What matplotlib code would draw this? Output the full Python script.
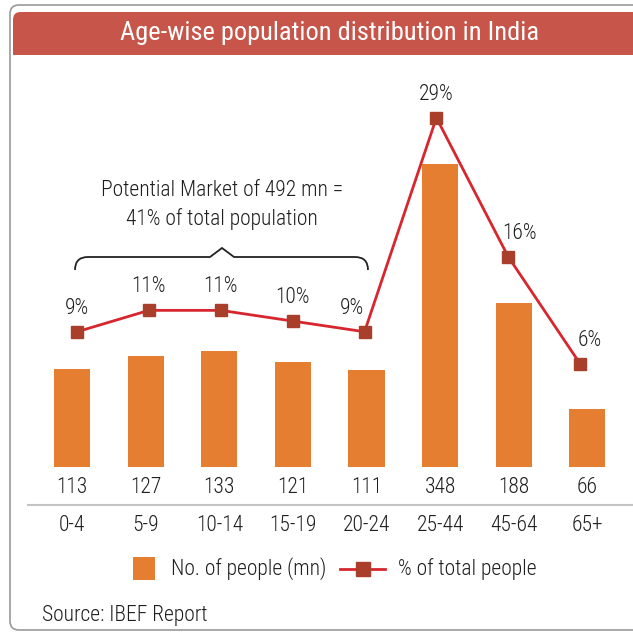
import matplotlib
matplotlib.use("Agg")
import matplotlib.pyplot as plt
from matplotlib.patches import FancyBboxPatch, Rectangle, PathPatch
from matplotlib.path import Path
from matplotlib.lines import Line2D

plt.rcParams['font.family'] = ['Roboto Condensed', 'DejaVu Sans']
plt.rcParams['font.weight'] = 'light'

age_groups = ['0-4', '5-9', '10-14', '15-19', '20-24', '25-44', '45-64', '65+']
people_mn = [113, 127, 133, 121, 111, 348, 188, 66]
pct_total = [9, 11, 11, 10, 9, 29, 16, 6]

W, H = 633, 635
def fx(px):
    return px / W
def fy(py):
    return 1 - py / H

bar_color = '#E57E31'
line_color = '#D7262E'
mark_color = '#A93E2B'
text_color = '#1e1e1e'
fs = 15.5

fig = plt.figure(figsize=(W / 100, H / 100), dpi=100)

# outer frame and title banner
fig.patches.append(FancyBboxPatch((fx(10), fy(630)), fx(660) - fx(10), fy(5) - fy(630),
                                  boxstyle='round,pad=0,rounding_size=0.014',
                                  transform=fig.transFigure, fc='none', ec='#9a9a9a', lw=1.2))
fig.patches.append(FancyBboxPatch((fx(13), fy(45)), fx(660) - fx(13), fy(12) - fy(45),
                                  boxstyle='round,pad=0,rounding_size=0.012',
                                  transform=fig.transFigure, fc='#C8554A', ec='none'))
fig.patches.append(Rectangle((fx(13), fy(55)), fx(660) - fx(13), fy(30) - fy(55),
                             transform=fig.transFigure, fc='#C8554A', ec='none'))
fig.text(fx(330), fy(33), 'Age-wise population distribution in India', color='white',
         fontsize=19, fontweight='normal', ha='center', va='center')

x = list(range(len(age_groups)))

# bars
ax = fig.add_axes([fx(35.2), fy(467), 589 / W, 407 / H])
ax.set_xlim(-0.5, 7.5)
ax.set_ylim(0, 467)
ax.axis('off')
ax.bar(x, people_mn, width=0.49, color=bar_color)
for i, v in enumerate(people_mn):
    ax.text(i, -23, str(v), ha='center', va='center', fontsize=fs, color=text_color, clip_on=False)
    ax.text(i, -66.6, age_groups[i], ha='center', va='center', fontsize=fs, color=text_color, clip_on=False)

# line
ax2 = fig.add_axes([fx(41.1), fy(467), 575 / W, 407 / H])
ax2.set_xlim(-0.5, 7.5)
ax2.set_ylim(-3.64, 34.4)
ax2.axis('off')
ax2.patch.set_alpha(0)
ax2.plot(x, pct_total, color=line_color, lw=2, marker='s', ms=8.5,
         mfc=mark_color, mec=mark_color)
label_dx = [0, 0, 0, 0, -9, 0, 8, 7]
for i, p in enumerate(pct_total):
    ax2.annotate(f'{p}%', (i, p), xytext=(label_dx[i], 17), textcoords='offset points',
                 ha='center', va='center', fontsize=fs, color=text_color)

# separator
fig.lines.append(Line2D([fx(28), fx(633)], [fy(505), fy(505)], transform=fig.transFigure,
                        color='#c4c4c4', lw=1.5))

# brace + annotation
pts = [(75, 270), (75, 257), (88, 257), (210, 257), (222, 248), (234, 257),
       (355, 257), (368, 257), (368, 270)]
codes = [Path.MOVETO, Path.CURVE3, Path.CURVE3, Path.LINETO, Path.LINETO, Path.LINETO,
         Path.LINETO, Path.CURVE3, Path.CURVE3]
brace = Path([(fx(a), fy(b)) for a, b in pts], codes)
fig.patches.append(PathPatch(brace, transform=fig.transFigure, fc='none', ec='#222222', lw=1.3))
fig.text(fx(222), fy(190), 'Potential Market of 492 mn =', ha='center', va='center',
         fontsize=fs, color=text_color)
fig.text(fx(222), fy(219), '41% of total population', ha='center', va='center',
         fontsize=fs, color=text_color)

# legend
fig.patches.append(Rectangle((fx(133), fy(580)), 22 / W, 23 / H, transform=fig.transFigure,
                             fc=bar_color, ec='none'))
fig.text(fx(171), fy(569), 'No. of people (mn)', ha='left', va='center', fontsize=fs, color=text_color)
fig.lines.append(Line2D([fx(340), fx(385)], [fy(569), fy(569)], transform=fig.transFigure,
                        color=line_color, lw=2))
fig.lines.append(Line2D([fx(362.5)], [fy(569)], transform=fig.transFigure, marker='s', ms=10,
                        mfc=mark_color, mec=mark_color, ls='none'))
fig.text(fx(398), fy(569), '% of total people', ha='left', va='center', fontsize=fs, color=text_color)

fig.text(fx(42), fy(615), 'Source: IBEF Report', ha='left', va='center', fontsize=fs, color=text_color)

fig.savefig('out.png', dpi=100)
